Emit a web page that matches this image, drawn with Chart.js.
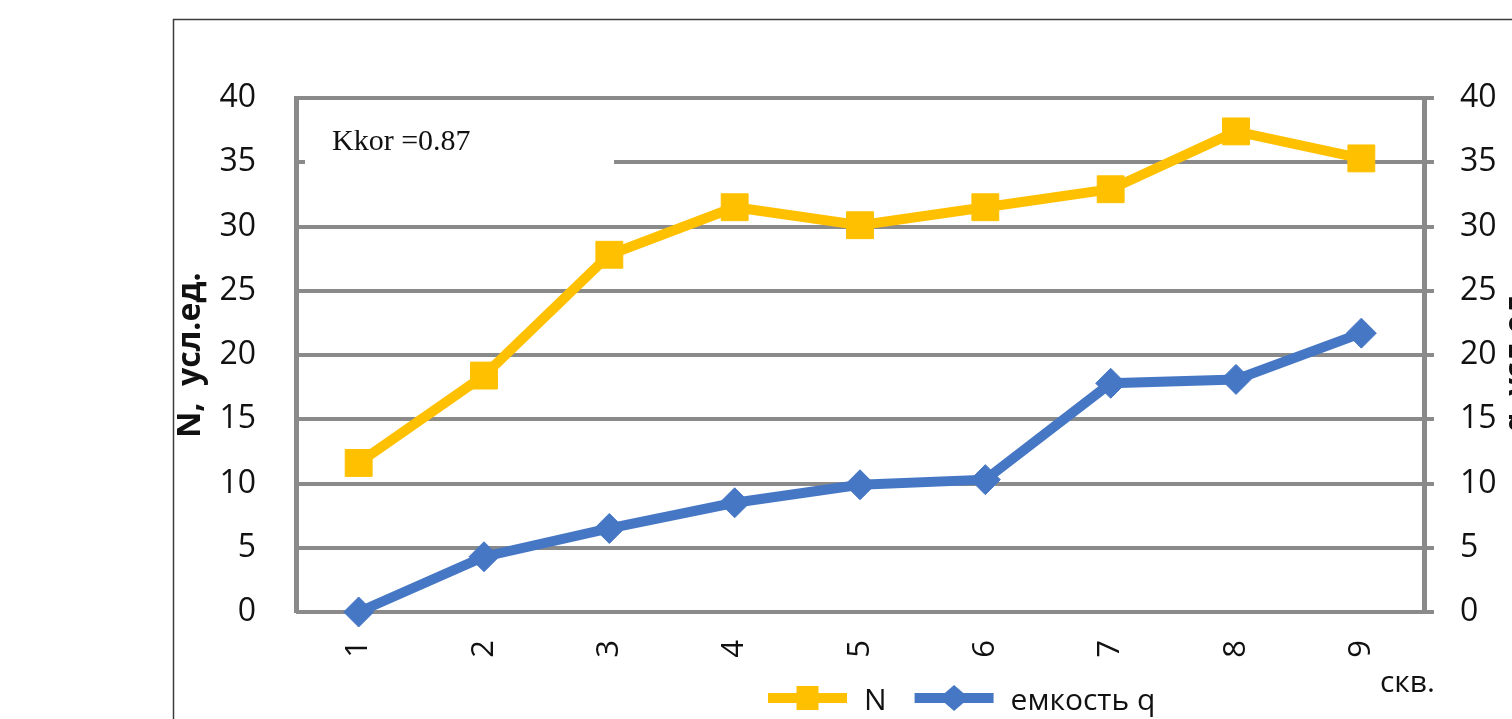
<!DOCTYPE html>
<html>
<head>
<meta charset="utf-8">
<script src="https://cdn.jsdelivr.net/npm/chart.js@4.4.1/dist/chart.umd.min.js"></script>
<style>
  html, body { margin: 0; padding: 0; background: #fff; }
  canvas { display: block; }
</style>
</head>
<body>
<canvas id="chart" width="1512" height="719"></canvas>
<script>
// wells along the x axis
const wells = ['1', '2', '3', '4', '5', '6', '7', '8', '9']
// N, conventional units (left axis)
const nValues = [11.6, 18.4, 27.8, 31.5, 30.1, 31.5, 32.9, 37.4, 35.3]
// capacity q (right axis)
const qValues = [0, 4.3, 6.5, 8.5, 9.9, 10.3, 17.8, 18.1, 21.7]
// both value axes share the same ticks
const axisMin = 0
const axisMax = 40
const axisStep = 5

const nLabel = 'N'
const qLabel = 'емкость q'
const leftTitle = 'N,  усл.ед.'
const rightTitle = 'q, усл.ед.'
const xUnit = 'скв.'
const corrText = 'Kkor =0.87'

const YELLOW = '#FFC000'
const BLUE = '#4677C4'
const GRID = '#8a8a8a'
const INK = '#111111'
const FONT = '"Open Sans", sans-serif'

Chart.defaults.font.family = FONT
Chart.defaults.color = INK

// frame, correlation note, unit label, right title and legend
const extras = {
    id: 'extras',
    beforeDraw(chart) {
        const ctx = chart.ctx
        ctx.save()
        ctx.strokeStyle = '#3c3c3c'
        ctx.lineWidth = 1.5
        ctx.strokeRect(173.5, 19.5, 1500, 800)
        ctx.restore()
    },
    beforeDatasetsDraw(chart) {
        const ctx = chart.ctx
        const area = chart.chartArea
        ctx.save()
        // white text box hides the gridline behind the note
        ctx.fillStyle = '#fff'
        ctx.fillRect(area.left + 9, area.top + 12, 309, 92)
        ctx.fillStyle = INK
        ctx.font = '30px "Liberation Serif", serif'
        ctx.textBaseline = 'alphabetic'
        ctx.fillText(corrText, area.left + 36, area.top + 52)
        ctx.restore()
    },
    afterDraw(chart) {
        const ctx = chart.ctx
        const area = chart.chartArea
        ctx.save()
        ctx.fillStyle = INK
        ctx.font = '30px ' + FONT
        ctx.textBaseline = 'alphabetic'
        ctx.fillText(xUnit, area.right - 44, 692)

        // secondary axis title, mostly off the page
        ctx.save()
        ctx.translate(1517, (area.top + area.bottom) / 2 + 4)
        ctx.rotate(-Math.PI / 2)
        ctx.textAlign = 'center'
        ctx.textBaseline = 'middle'
        ctx.font = 'bold 31px ' + FONT
        ctx.fillText(rightTitle, 0, 0)
        ctx.restore()

        // legend: line sample with marker, then label
        let x = 768
        const y = 698
        chart.data.datasets.forEach(ds => {
            const len = 79
            ctx.strokeStyle = ds.borderColor
            ctx.lineWidth = 10
            ctx.lineCap = 'butt'
            ctx.beginPath()
            ctx.moveTo(x, y)
            ctx.lineTo(x + len, y)
            ctx.stroke()
            const cx = x + len / 2
            ctx.fillStyle = ds.borderColor
            ctx.beginPath()
            if (ds.pointStyle === 'rect') {
                ctx.rect(cx - 11, y - 12, 22, 24)
            } else {
                ctx.moveTo(cx, y - 13)
                ctx.lineTo(cx + 15, y)
                ctx.lineTo(cx, y + 13)
                ctx.lineTo(cx - 15, y)
                ctx.closePath()
            }
            ctx.fill()
            ctx.fillStyle = INK
            ctx.font = '30px ' + FONT
            const tx = x + len + 17
            ctx.fillText(ds.label, tx, 710)
            x = tx + ctx.measureText(ds.label).width + 28
        })
        ctx.restore()
    }
}

const ctx = document.getElementById('chart').getContext('2d')
const myChart = new Chart(ctx, {
    type: 'line',
    data: {
        labels: wells,
        datasets: [{
            label: nLabel,
            data: nValues,
            yAxisID: 'y',
            borderColor: YELLOW,
            backgroundColor: YELLOW,
            borderWidth: 10,
            pointStyle: 'rect',
            pointRadius: 19,
            pointBorderWidth: 1,
            tension: 0,
            clip: false
        }, {
            label: qLabel,
            data: qValues,
            yAxisID: 'y2',
            borderColor: BLUE,
            backgroundColor: BLUE,
            borderWidth: 10,
            pointStyle: 'rectRot',
            pointRadius: 15,
            pointBorderWidth: 1,
            tension: 0,
            clip: false
        }]
    },
    options: {
        responsive: false,
        animation: false,
        events: [],
        layout: { padding: { top: 98, left: 0, right: 0, bottom: 0 } },
        plugins: {
            legend: { display: false },
            tooltip: { enabled: false }
        },
        scales: {
            x: {
                offset: true,
                grid: { display: false, drawTicks: false },
                border: { display: false },
                ticks: {
                    autoSkip: false,
                    minRotation: 90,
                    maxRotation: 90,
                    padding: 28,
                    font: { size: 31 },
                    color: INK
                },
                afterFit(scale) { scale.height = 107 }
            },
            y: {
                position: 'left',
                min: axisMin,
                max: axisMax,
                grid: { display: false, drawTicks: false },
                border: { display: true, color: GRID, width: 5 },
                ticks: { stepSize: axisStep, padding: 40, font: { size: 32 }, color: INK },
                title: {
                    display: true,
                    text: leftTitle,
                    font: { size: 32, weight: 'bold' },
                    padding: { top: 172, bottom: 0 },
                    color: INK
                },
                afterFit(scale) { scale.width = 296 }
            },
            y2: {
                position: 'right',
                min: axisMin,
                max: axisMax,
                grid: {
                    display: true,
                    color: GRID,
                    lineWidth: 4,
                    drawTicks: true,
                    tickLength: 10,
                    tickColor: GRID,
                    tickWidth: 4
                },
                border: { display: true, color: GRID, width: 5 },
                ticks: { stepSize: axisStep, padding: 26, font: { size: 32 }, color: INK },
                afterFit(scale) { scale.width = 88 }
            }
        }
    },
    plugins: [extras]
})
</script>
</body>
</html>
